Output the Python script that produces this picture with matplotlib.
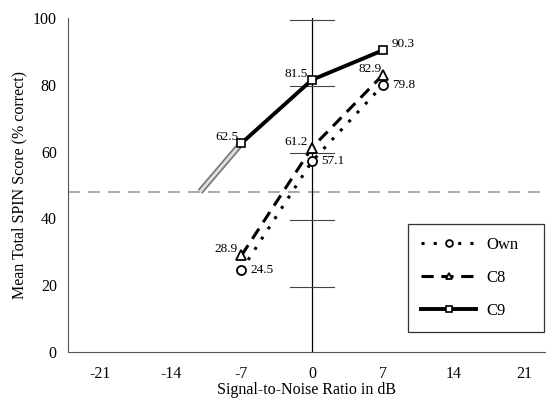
import matplotlib.pyplot as plt

plt.rcParams['font.family'] = ['Liberation Serif', 'DejaVu Serif']
plt.rcParams['axes.unicode_minus'] = False

snr = [-7, 0, 7]
own = [24.5, 57.1, 79.8]
c8 = [28.9, 61.2, 82.9]
c9 = [62.5, 81.5, 90.3]
cap_levels = [99.5, 79.5, 59.5, 39.5, 19.5]
threshold = 48
xticks = [-21, -14, -7, 0, 7, 14, 21]
yticks = [0, 20, 40, 60, 80, 100]

fig = plt.figure(figsize=(5.46, 3.98), dpi=100)
ax = fig.add_axes([0.1245, 0.1156, 0.8755, 0.8392])

# reference lines
ax.axhline(threshold, color='#9a9a9a', lw=1.2, dashes=(7, 5))
ax.plot([0, 0], [0, 100], color='black', lw=0.9)
for c in cap_levels:
    ax.plot([-2.2, 2.2], [c, c], color='#444444', lw=0.8)

# grey extension of C9 curve
ax.plot([-11.1, -7], [threshold, c9[0]], color='#777777', lw=4.5, solid_capstyle='butt')
ax.plot([-11.1, -7], [threshold, c9[0]], color='#e0e0e0', lw=2.0, solid_capstyle='butt')

ax.plot(snr, own, color='black', lw=2.2, linestyle=(0, (1, 3)), marker='o',
        ms=6.5, mfc='white', mec='black', mew=1.3, label='Own')
ax.plot(snr, c8, color='black', lw=2.2, linestyle=(0, (4, 2.5)), marker='^',
        ms=6.5, mfc='white', mec='black', mew=1.3, label='C8')
ax.plot(snr, c9, color='black', lw=2.8, linestyle='-', marker='s',
        ms=5.5, mfc='white', mec='black', mew=1.2, label='C9')

fs = 9.5
ax.text(-7.3, c9[0], '62.5', ha='right', va='bottom', fontsize=fs)
ax.text(-0.4, c9[1], '81.5', ha='right', va='bottom', fontsize=fs)
ax.text(7.9, c9[2], '90.3', ha='left', va='bottom', fontsize=fs)
ax.text(6.9, c8[2], '82.9', ha='right', va='bottom', fontsize=fs)
ax.text(7.9, own[2], '79.8', ha='left', va='center', fontsize=fs)
ax.text(-0.4, c8[1], '61.2', ha='right', va='bottom', fontsize=fs)
ax.text(0.9, own[1], '57.1', ha='left', va='center', fontsize=fs)
ax.text(-7.4, c8[0], '28.9', ha='right', va='bottom', fontsize=fs)
ax.text(-6.1, own[0], '24.5', ha='left', va='center', fontsize=fs)

ax.set_xlim(-24.2, 23.2)
ax.set_ylim(0, 100)
ax.set_xticks(xticks)
ax.set_yticks(yticks)
ax.tick_params(labelsize=11.5, length=0)
ax.tick_params(axis='x', pad=10)
ax.tick_params(axis='y', pad=8)
ax.spines['top'].set_visible(False)
ax.spines['right'].set_visible(False)
ax.spines['left'].set_color('#555555')
ax.spines['bottom'].set_color('#555555')
ax.set_xlabel('Signal-to-Noise Ratio in dB', fontsize=11.5, labelpad=0)
ax.set_ylabel('Mean Total SPIN Score (% correct)', fontsize=11.5, labelpad=4)

leg = ax.legend(loc='lower left', bbox_to_anchor=(0.711, 0.06, 0.285, 0.32), mode='expand',
                borderaxespad=0, fontsize=12, handlelength=3.3, labelspacing=1.0,
                borderpad=0.8, handletextpad=0.6, markerscale=0.75, fancybox=False,
                edgecolor='#333333', framealpha=1)
leg.get_frame().set_linewidth(0.9)

fig.savefig('out.png', dpi=100)
